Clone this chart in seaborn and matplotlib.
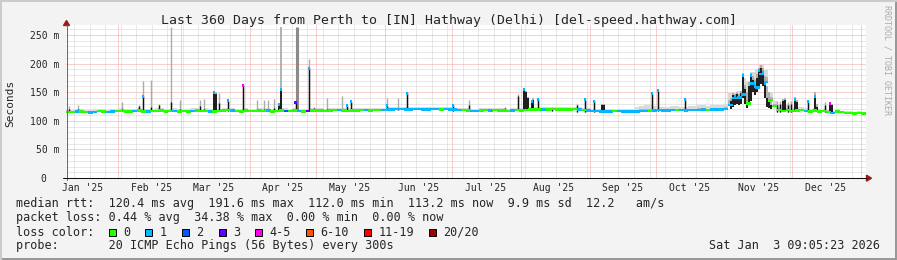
import matplotlib
matplotlib.use("Agg")
import matplotlib.pyplot as plt
import matplotlib.dates as mdates
from matplotlib.path import Path
from matplotlib.patches import Rectangle, Polygon
from matplotlib.lines import Line2D
import seaborn as sns
import pandas as pd
from datetime import datetime, timedelta

# ---------------- data ----------------
start = datetime(2025, 1, 8, 9, 5, 23)
end = datetime(2026, 1, 3, 9, 5, 23)
bin_days = 2

# median rtt (ms), one value per 2-day bin
median_ms = [
    115.5, 115, 116, 116.5, 115, 114.5, 115.5, 117, 116, 115, 116.5, 117,                 # Jan
    117.5, 116, 116.5, 117, 118, 116.5, 116, 117, 117.5, 118, 116.5, 117, 117.5, 116,     # Feb
    117, 116.5, 117.5, 118, 117, 117.5, 116.5, 116, 117, 118, 118.5, 118, 117, 116.5, 118, 117,  # Mar
    117, 118, 117.5, 118, 116.5, 117, 118, 117.5, 117, 118, 117, 116.5, 117, 118, 118,   # Apr
    118, 117, 118, 118.5, 119, 118, 117.5, 118, 118, 119, 118.5, 118, 119, 118.5, 119, 119.5,  # May
    120, 120.5, 121, 120, 120, 121, 120.5, 120, 120, 121, 120.5, 120, 120.5, 120,         # Jun
    119.5, 119, 118.5, 118, 117.5, 117, 118, 118.5, 118, 119, 118, 118, 117.5, 118, 118.5, 118,  # Jul
    119, 119.5, 120, 120, 119.5, 120, 120.5, 120, 120, 119.5, 120, 120.5, 120, 119, 118,  # Aug
    117, 117, 116.5, 116, 116.5, 117, 117, 116.5, 116, 116, 116.5, 117, 117, 117.5, 118,  # Sep
    118.5, 118, 118, 118.5, 119, 118.5, 118, 118.5, 119, 119, 119.5, 119, 119.5, 120, 120, 121,  # Oct
    128, 140, 141, 146, 130, 165, 158, 182, 168, 136, 126, 119, 117, 119, 117,           # Nov
    118, 119, 117, 116, 118, 116, 117, 115, 114, 116, 115, 114, 114, 113, 113.5, 113,    # Dec
]
loss_idx = [
    0, 0, 1, 0, 0, 1, 1, 0, 0, 1, 1, 0,
    0, 0, 0, 1, 0, 0, 1, 0, 0, 0, 0, 0, 1, 0,
    0, 0, 1, 0, 0, 0, 1, 0, 0, 0, 0, 1, 0, 0, 0, 0,
    0, 0, 0, 1, 0, 0, 0, 2, 0, 0, 1, 0, 3, 0, 0,
    0, 0, 0, 0, 1, 0, 0, 0, 0, 0, 1, 0, 0, 0, 1, 1,
    1, 1, 1, 1, 1, 1, 1, 1, 1, 1, 1, 0, 1, 1,
    1, 1, 0, 0, 1, 1, 0, 0, 1, 0, 0, 0, 0, 1, 0, 0,
    0, 0, 0, 0, 1, 0, 0, 0, 0, 0, 0, 0, 1, 0, 1,
    1, 1, 1, 1, 1, 0, 1, 1, 1, 1, 1, 1, 1, 0, 1,
    1, 1, 1, 1, 0, 1, 1, 1, 1, 1, 1, 0, 1, 1, 1, 1,
    1, 1, 1, 1, 0, 1, 1, 1, 1, 0, 0, 0, 0, 0, 0,
    0, 0, 1, 0, 0, 0, 0, 0, 1, 0, 0, 0, 0, 0, 0, 0,
]
# top of the grey smoke (ms), one value per 2-day bin
smoke_top = [
    119, 119, 120, 121, 119, 119, 120, 121, 120, 119, 121, 121,
    122, 120, 121, 121, 122, 121, 120, 121, 122, 122, 121, 121, 122, 120,
    121, 121, 122, 122, 121, 122, 121, 120, 121, 122, 123, 122, 121, 121, 122, 121,
    121, 122, 122, 122, 121, 121, 122, 122, 121, 122, 121, 121, 121, 122, 122,
    122, 121, 122, 123, 123, 122, 122, 122, 122, 123, 123, 122, 123, 123, 123, 124,
    124, 125, 125, 124, 124, 125, 125, 124, 124, 125, 125, 124, 125, 124,
    123, 123, 122, 122, 121, 121, 122, 123, 122, 123, 122, 122, 121, 122, 123, 122,
    123, 124, 124, 124, 124, 124, 125, 124, 124, 124, 124, 125, 124, 123, 122,
    121, 121, 121, 120, 121, 121, 121, 121, 120, 121, 124, 126, 127, 127, 126,
    125, 124, 125, 126, 126, 125, 125, 126, 126, 127, 127, 126, 127, 127, 128, 130,
    148, 150, 152, 175, 170, 185, 190, 197, 188, 150, 135, 128, 126, 130, 125,
    124, 125, 122, 121, 123, 121, 121, 119, 118, 120, 118, 117, 117, 116, 117, 116,
]

# short-lived excursions: day offset from start, low end, dense (black) top,
# outlier (grey) top, loss colour of the median at the top (-1 = none)
spike_day = [1.35, 5.4, 25.2, 32.85, 34.65, 38.25, 41.85, 47.25, 51.3, 60.3, 62.1, 66.6, 67.5, 68.85,
             72.9, 79.65, 85.95, 89.1, 90.9, 93.6, 95.85, 96.75, 103.37, 109.35, 111.6, 117.45, 124.2,
             126.45, 128.25, 144.45, 149.4, 153.45, 174.15, 181.35, 197.55, 203.4, 206.1, 207.0, 207.9,
             209.7, 210.15, 212.4, 218.7, 229.95, 233.55, 237.6, 241.2, 242.1, 263.7, 266.4, 278.55,
             299.25, 300.15, 301.05, 301.95, 302.85, 303.75, 304.65, 305.55, 306.45, 307.35, 308.25,
             309.15, 310.05, 310.95, 311.85, 312.75, 313.65, 314.55, 315.45, 316.35, 317.25, 319.95,
             321.3, 322.65, 323.55, 324.9, 326.25, 328.05, 328.95, 333.9, 337.05, 337.95, 341.55,
             343.8, 344.7]
spike_low = [117, 117, 117, 117, 117, 117, 117, 117, 117, 117, 117, 117, 117, 117,
             117, 117, 117, 117, 117, 117, 117, 117, 117, 117, 117, 117, 117,
             118, 118, 119, 119, 119, 118, 118, 118, 119, 119, 119, 119,
             119, 119, 119, 118, 116, 116, 116, 116, 116, 117, 117, 118,
             120, 125, 128, 130, 128, 130, 140, 130, 122, 128, 135,
             150, 145, 150, 160, 165, 160, 140, 125, 122, 120, 116,
             116, 116, 116, 116, 116, 116, 116, 116, 116, 116, 115,
             115, 115]
spike_dark = [120, 121, 120, 126, 143, 124, 127, 133, 120, 126, 120, 149, 147, 131,
              135, 162, 120, 120, 120, 122, 128, 154, 132, 191.6, 122, 120, 120,
              126, 133, 126, 121, 148, 127, 128, 123, 143, 154, 150, 140,
              133, 137, 138, 123, 128, 137, 134, 128, 128, 147, 152.6, 137.6,
              135, 145, 142, 146, 140, 148, 180, 155, 130, 160, 180,
              172, 160, 175, 188, 192, 185, 165, 140, 132, 128, 128,
              130, 134, 136, 127, 130, 137, 133, 133, 142, 125, 128,
              130, 127]
spike_light = [126, 128, 133, 128, 170, 171, 130, 264, 137, 136, 138, 151, 150, 149,
               137, 164, 136, 136, 136, 138, 130, 264, 135, 208, 125, 139, 143,
               128, 135, 139, 139, 150, 130, 136, 125, 146, 156, 152, 142,
               135, 139, 140, 125, 130, 139, 136, 130, 130, 149, 155, 139,
               140, 149, 146, 150, 146, 152, 184, 162, 150, 168, 184,
               178, 170, 182, 193, 197, 192, 178, 160, 150, 140, 135,
               134, 138, 140, 132, 134, 141, 137, 137, 150, 129, 132,
               133, 130]
spike_loss = [-1, -1, -1, -1, 1, -1, -1, -1, -1, -1, -1, 1, -1, -1,
              1, 4, -1, -1, -1, -1, 1, 1, 3, 1, -1, -1, -1,
              1, 1, 1, -1, 1, 1, -1, -1, -1, 1, -1, -1,
              1, -1, 1, -1, -1, 1, 1, -1, -1, 1, 1, 1,
              -1, -1, 1, -1, -1, -1, 1, -1, -1, -1, 1,
              -1, 1, -1, 1, -1, 1, 1, -1, -1, -1, -1,
              -1, -1, -1, -1, -1, 1, -1, 1, 1, -1, -1,
              4, -1]
wide_spike_day = [103.95]
wide_spike_top = [264]

month_labels = ["Jan '25", "Feb '25", "Mar '25", "Apr '25", "May '25", "Jun '25",
                "Jul '25", "Aug '25", "Sep '25", "Oct '25", "Nov '25", "Dec '25"]
y_ticks = [0, 50, 100, 150, 200, 250]
y_tick_labels = ["0\u00a0\u00a0", "50 m", "100 m", "150 m", "200 m", "250 m"]
loss_labels = ["0", "1", "2", "3", "4-5", "6-10", "11-19", "20/20"]
loss_colors = ["#26ff00", "#00b8ff", "#0059ff", "#5e00ff", "#ff00ea", "#ff5500", "#ff0000", "#a10000"]

title = "Last 360 Days from Perth to [IN] Hathway (Delhi) [del-speed.hathway.com]"
line_rtt = "median rtt:  120.4 ms avg  191.6 ms max  112.0 ms min  113.2 ms now  9.9 ms sd  12.2   am/s"
line_loss = "packet loss: 0.44 % avg  34.38 % max  0.00 % min  0.00 % now"
line_color = "loss color:"
line_probe = "probe:       20 ICMP Echo Pings (56 Bytes) every 300s"
stamp = "Sat Jan  3 09:05:23 2026"

# ---------------- figure ----------------
sns.set_style("white")
plt.rcParams["font.family"] = ["DejaVu Sans Mono"]

W, H = 897, 260
fig = plt.figure(figsize=(W / 100, H / 100), dpi=100)
fig.patch.set_facecolor("#F3F3F3")


def fx(x):
    return x / W


def fy(y):
    return 1 - y / H


L, R, B, T = 66, 866, 178, 25
PX_PER_MS = 0.572
ax = fig.add_axes([fx(L), fy(B), (R - L) / W, (B - T) / H])
ax.set_facecolor("white")
for s in ax.spines.values():
    s.set_visible(False)

# grid
minor_c = "#D2D2D2"
major_c = "#F2A0A0"
for v in range(10, 261, 10):
    if v % 50:
        ax.axhline(v, color=minor_c, lw=0.72, ls=(0, (1, 1)), zorder=0.5)
for v in range(50, 251, 50):
    ax.axhline(v, color=major_c, lw=0.72, ls=(0, (1, 1)), zorder=0.6)
months = pd.date_range("2025-02-01", "2026-01-01", freq="MS")
for d in pd.date_range("2025-01-12", end, freq="7D"):
    if d.day != 1:
        ax.axvline(d, color=minor_c, lw=0.72, ls=(0, (1, 1)), zorder=0.5)
for d in months:
    ax.axvline(d, color=major_c, lw=0.72, ls=(0, (1, 1)), zorder=0.6)

# smoke band (outer light, inner darker)
nb = len(median_ms)
edges = mdates.date2num([start + timedelta(days=bin_days * i) for i in range(nb + 1)])
lo = [m - 1.5 for m in median_ms] + [median_ms[-1] - 1.5]
hi = list(smoke_top) + [smoke_top[-1]]
mid = [a + (b - a) * 0.45 for a, b in zip(lo, hi)]
ax.fill_between(edges, lo, hi, step="post", color="#DADADA", lw=0, zorder=1)
ax.fill_between(edges, lo, mid, step="post", color="#B4B4B4", lw=0, zorder=1.1)

# spikes
sp_t = [start + timedelta(days=d) for d in spike_day]
lws = []
for i, d in enumerate(spike_day):
    gaps = [abs(d - spike_day[j]) for j in (i - 1, i + 1) if 0 <= j < len(spike_day)]
    lws.append(1.3 if min(gaps) < 1.2 else 1.0)
ax.vlines(sp_t, spike_low, spike_light, color="#ABABAB", lw=lws, zorder=2)
ax.vlines(sp_t, spike_low, spike_dark, color="#111111", lw=lws, zorder=3)
wt = [start + timedelta(days=d) for d in wide_spike_day]
wb = [median_ms[int(d // bin_days)] for d in wide_spike_day]
ax.vlines(wt, wb, wide_spike_top, color="#8A8A8A", lw=2.2, zorder=2)

# median band coloured by loss
centers = [start + timedelta(days=bin_days * i + bin_days / 2) for i in range(nb)]
df = pd.DataFrame({"time": centers, "median": median_ms,
                   "loss": [loss_labels[k] for k in loss_idx]})
pal = dict(zip(loss_labels, loss_colors))
rect = Path([(-1, -0.5), (1, -0.5), (1, 0.5), (-1, 0.5), (-1, -0.5)],
            [Path.MOVETO, Path.LINETO, Path.LINETO, Path.LINETO, Path.CLOSEPOLY])
sns.scatterplot(data=df, x="time", y="median", hue="loss", palette=pal, marker=rect,
                s=12.5, linewidth=0, edgecolor="none", legend=False, ax=ax, zorder=4)

dots = pd.DataFrame({"time": sp_t, "val": spike_dark, "k": spike_loss})
dots = dots[dots["k"] >= 0].copy()
dots["loss"] = [loss_labels[k] for k in dots["k"]]
sns.scatterplot(data=dots, x="time", y="val", hue="loss", palette=pal, marker="s",
                s=4.5, linewidth=0, edgecolor="none", legend=False, ax=ax, zorder=5)

ax.set_xlim(start, end)
ax.set_ylim(0, (B - T) / PX_PER_MS)
ax.set_xlabel("")
ax.set_ylabel("")
ax.set_yticks(y_ticks)
ax.set_yticklabels(y_tick_labels, fontsize=7)
ax.tick_params(axis="y", length=0, pad=5)
ax.set_xticks([datetime(2025, m, 16) for m in range(1, 13)])
ax.set_xticklabels(month_labels, fontsize=7)
ax.tick_params(axis="x", length=0, pad=3.6)

# axes lines + arrows
fig.add_artist(Line2D([fx(66.5), fx(66.5)], [fy(180), fy(25)], color="#6A6A6A", lw=0.75))
fig.add_artist(Line2D([fx(63), fx(867)], [fy(178.2), fy(178.2)], color="#111111", lw=0.75))
arrow_c = "#9B1C1C"
fig.add_artist(Polygon([(fx(63.5), fy(25.5)), (fx(69.5), fy(25.5)), (fx(66.5), fy(20.5))],
                       closed=True, color=arrow_c, transform=fig.transFigure))
fig.add_artist(Polygon([(fx(866.5), fy(175.2)), (fx(866.5), fy(181.2)), (fx(871.5), fy(178.2))],
                       closed=True, color=arrow_c, transform=fig.transFigure))

# 3D border
for (x0, y0, w, h, c) in [(0, 0, 1, 2 / H, "#999999"), (1 - 2 / W, 0, 2 / W, 1, "#999999"),
                          (0, 1 - 2 / H, 1, 2 / H, "#CBCBCB"), (0, 0, 2 / W, 1, "#CBCBCB")]:
    fig.add_artist(Rectangle((x0, y0), w, h, transform=fig.transFigure, color=c, lw=0))

# texts
fig.text(fx(449), fy(24), title, ha="center", va="baseline", fontsize=9.5)
fig.text(fx(10), fy(103), "Seconds", rotation=90, ha="center", va="center", fontsize=8)
fig.text(fx(887), fy(5), "RRDTOOL / TOBI OETIKER", rotation=270, ha="center", va="top",
         fontsize=6, color="#ABABAB")

LEG = 8.5
CW = 7.05
fig.text(fx(16), fy(207.5), line_rtt, ha="left", va="baseline", fontsize=LEG)
fig.text(fx(16), fy(221.5), line_loss, ha="left", va="baseline", fontsize=LEG)
fig.text(fx(16), fy(235.5), line_color, ha="left", va="baseline", fontsize=LEG)
fig.text(fx(16), fy(249), line_probe, ha="left", va="baseline", fontsize=LEG)
fig.text(fx(880), fy(249), stamp, ha="right", va="baseline", fontsize=LEG)

xb = 108.7
for lab, col in zip(loss_labels, loss_colors):
    fig.add_artist(Rectangle((fx(xb), fy(235.5)), 7 / W, 7 / H, transform=fig.transFigure,
                             facecolor=col, edgecolor="black", lw=0.7))
    fig.text(fx(xb + 14.3), fy(235.5), lab, ha="left", va="baseline", fontsize=LEG)
    xb += (len(lab) + 4.2) * CW

fig.savefig("out.png", dpi=100, facecolor=fig.get_facecolor())
